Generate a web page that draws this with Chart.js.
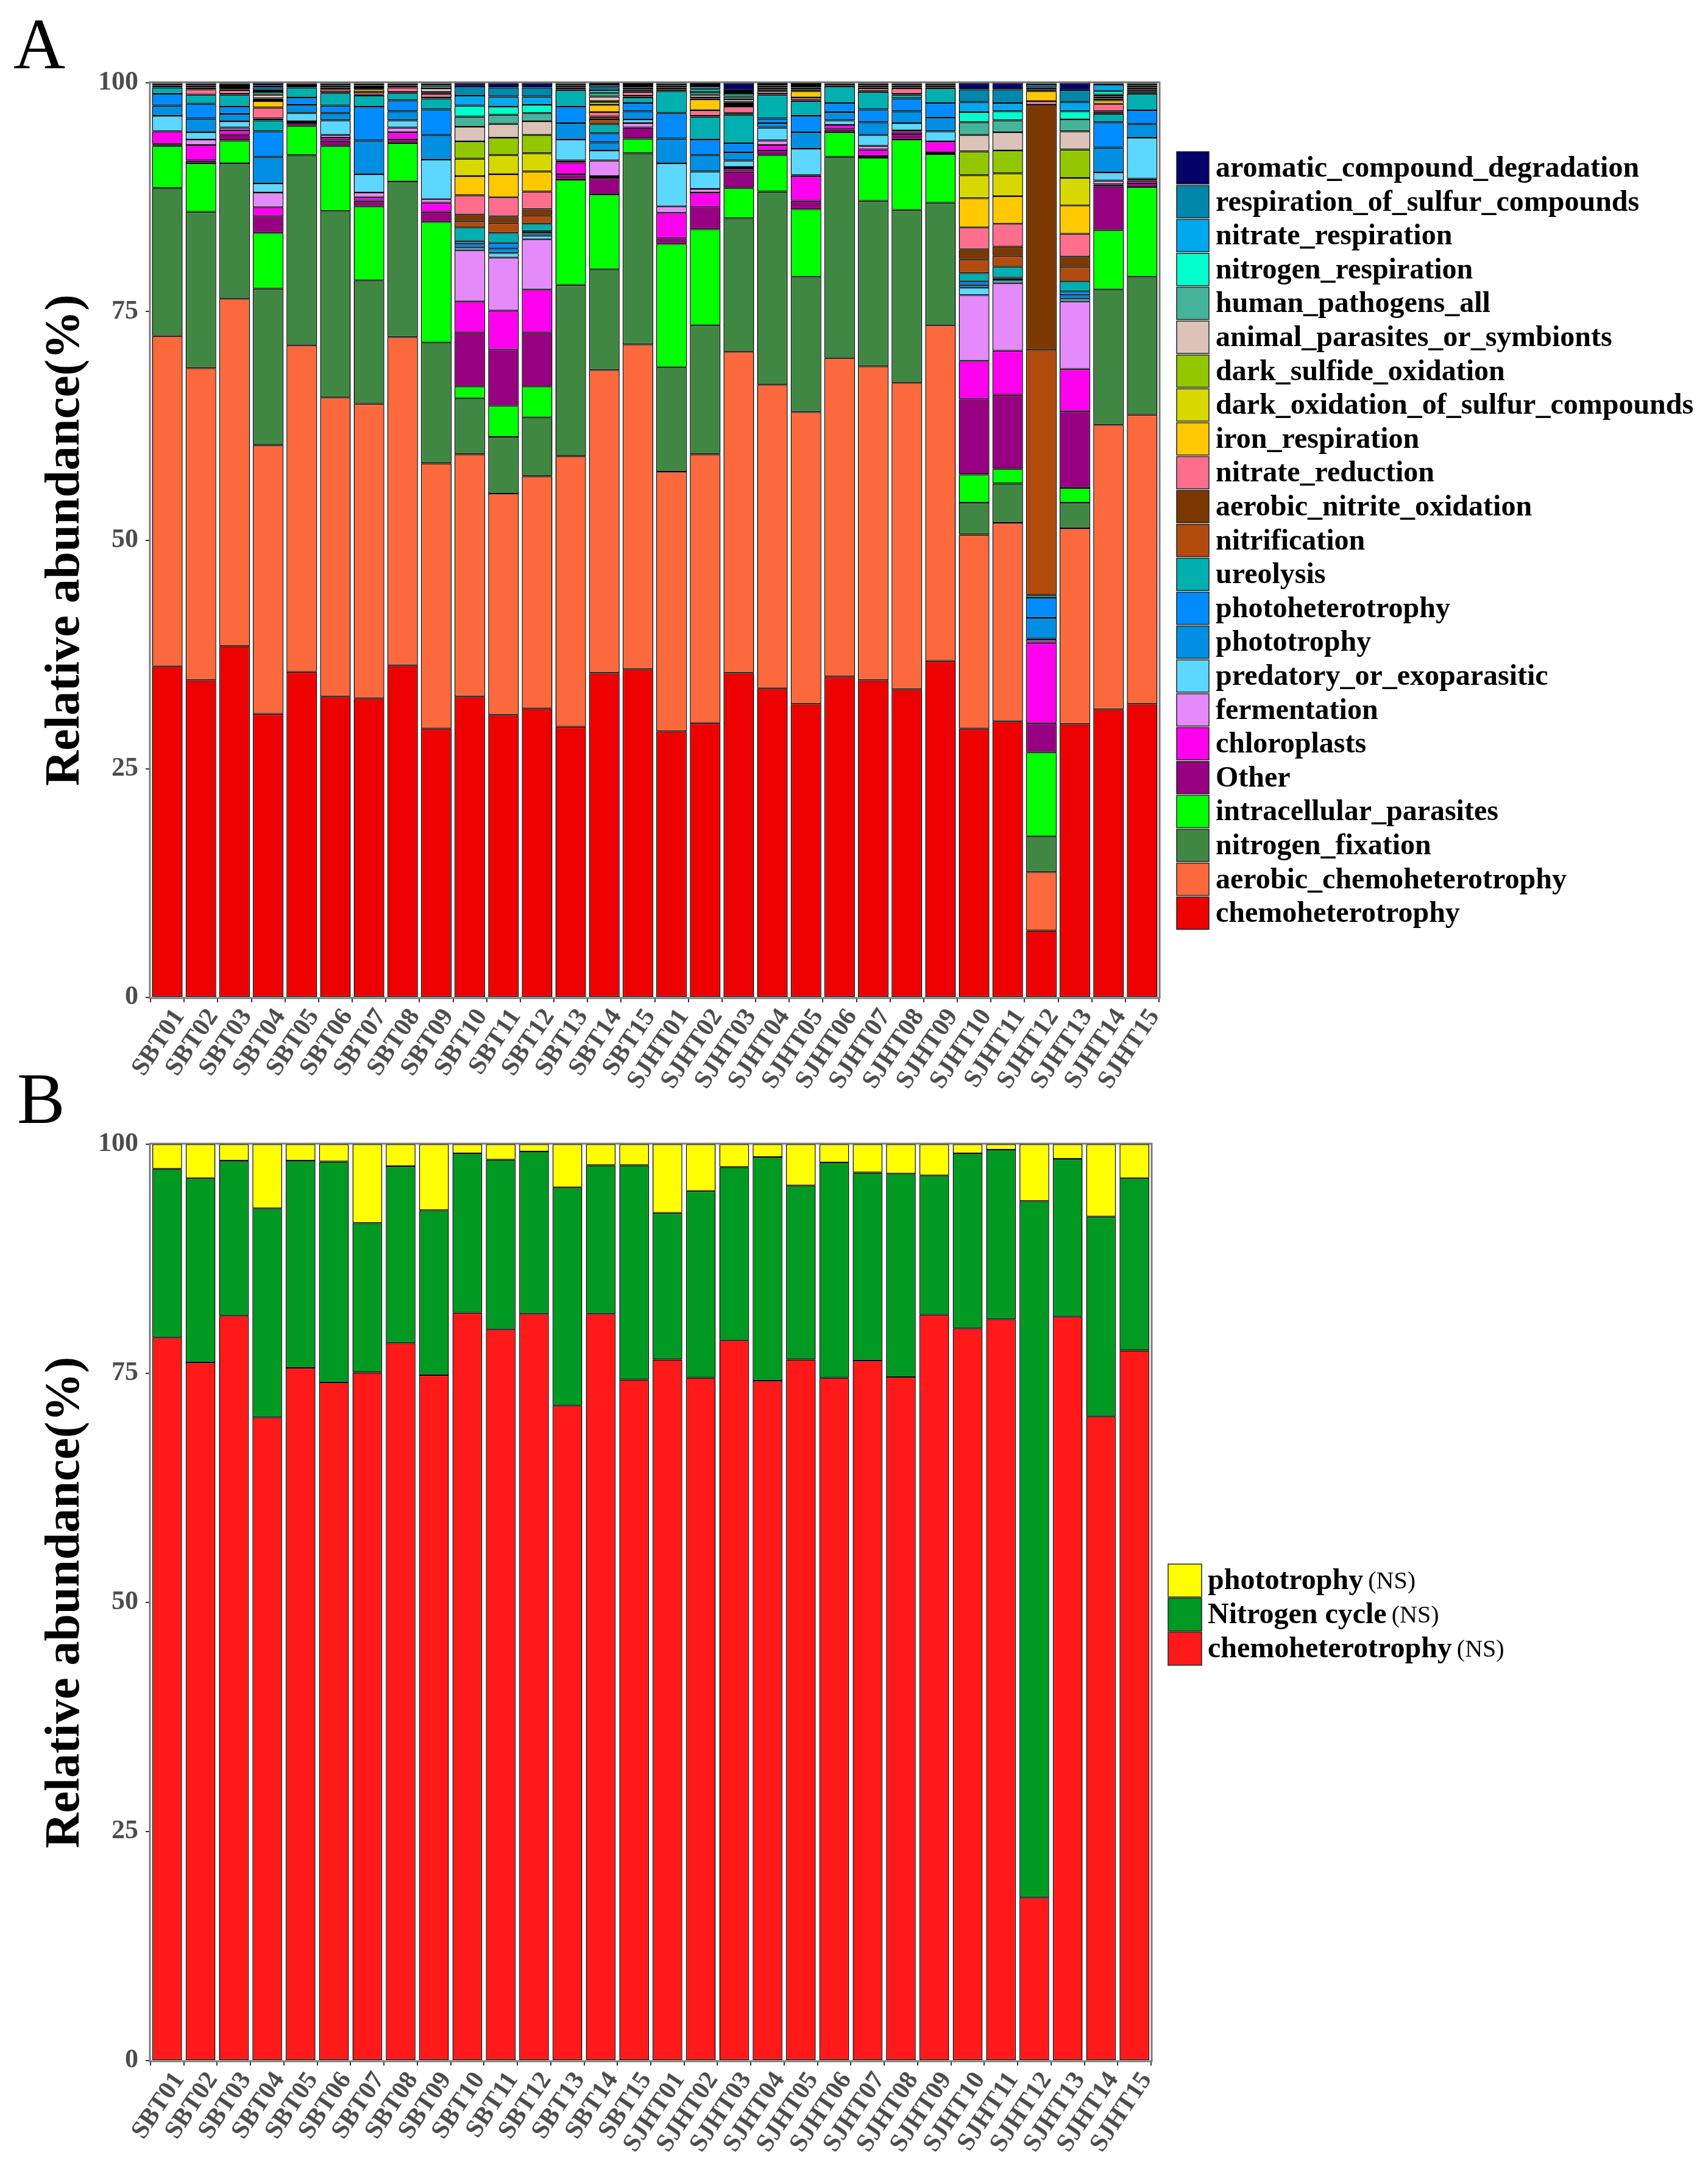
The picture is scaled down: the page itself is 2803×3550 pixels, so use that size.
<!DOCTYPE html>
<html>
<head>
<meta charset="utf-8">
<script src="https://cdn.jsdelivr.net/npm/chart.js@4.4.1/dist/chart.umd.min.js"></script>
<style>
  html, body { margin: 0; padding: 0; background: #fff; }
  #wrap { position: relative; width: 2803px; height: 3550px; background: #fff; }
  canvas { position: absolute; left: 0; }
  #chartA { top: 0; }
  #chartB { top: 1740px; }
</style>
</head>
<body>
<div id="wrap">
  <canvas id="chartA" width="2803" height="1800"></canvas>
  <canvas id="chartB" width="2803" height="1810"></canvas>
</div>
<script>
// sample names
var samples = ["SBT01","SBT02","SBT03","SBT04","SBT05","SBT06","SBT07","SBT08","SBT09","SBT10","SBT11","SBT12","SBT13","SBT14","SBT15",
  "SJHT01","SJHT02","SJHT03","SJHT04","SJHT05","SJHT06","SJHT07","SJHT08","SJHT09","SJHT10","SJHT11","SJHT12","SJHT13","SJHT14","SJHT15"];
var yTicks = [0, 25, 50, 75, 100];

// panel A, relative abundance (%) of each FAPROTAX function, bottom of the stack first
var chemoheterotrophy = [36.2,34.7,38.4,31.0,35.6,32.9,32.7,36.3,29.4,32.9,30.9,31.6,29.6,35.5,35.9, 29.1,30.0,35.5,33.8,32.1,35.1,34.7,33.7,36.8,29.4,30.2,7.3,29.9,31.5,32.1];
var aerobic_chemoheterotrophy = [36.1,34.1,38.0,29.4,35.7,32.7,32.2,35.9,29.0,26.5,24.2,25.4,29.6,33.1,35.5, 28.4,29.4,35.1,33.2,31.9,34.8,34.3,33.5,36.7,21.2,21.7,6.4,21.4,31.1,31.6];
var nitrogen_fixation = [16.2,17.1,14.8,17.1,20.8,20.4,13.5,17.0,13.2,6.1,6.2,6.4,18.7,11.0,20.9, 11.4,14.1,14.6,21.1,14.8,22.0,18.1,18.9,13.4,3.5,4.3,3.9,2.8,14.8,15.1];
var intracellular_parasites = [4.6,5.3,2.5,6.1,3.2,7.1,8.1,4.2,13.2,1.3,3.4,3.4,11.5,8.2,1.6, 13.5,10.5,3.3,4.0,7.4,2.7,4.7,7.7,5.3,3.1,1.6,9.2,1.6,6.5,9.8];
var other = [0.2,0.3,0.6,1.8,0.3,0.6,0.6,0.4,1.1,5.9,6.1,5.9,0.6,1.8,1.2, 0.6,2.4,1.8,0.5,0.9,0.3,0.2,0.6,0.2,8.2,8.1,3.2,8.4,4.8,0.4];
var chloroplasts = [1.4,1.7,0.5,1.0,0.2,0.3,0.4,0.8,1.0,3.4,4.3,4.7,1.3,0.2,0, 2.8,1.6,0.3,0.6,2.7,0.5,0.7,0.3,1.2,4.2,4.8,8.8,4.6,0.2,0.3];
var fermentation = [0,0.6,0.3,1.6,0,0.3,0.5,0.5,0.4,5.6,5.8,5.5,0.2,1.7,0.5, 0.7,0.4,0.2,0.5,0.1,0,0.4,0.1,0,7.2,7.4,0.3,7.4,0.4,0.2];
var predatory_or_exoparasitic = [1.7,0.8,0.7,1.0,0.9,1.6,2.0,0.8,4.3,0.3,0.5,0.4,2.3,1.1,0.4, 4.7,1.9,0.7,1.4,2.9,0.5,1.2,0.8,1.1,0.8,0.3,0.1,0.3,0.9,4.5];
var phototrophy = [1.1,1.5,0.8,2.9,0.9,0.8,3.7,1.0,2.7,0.4,0.5,0.3,1.8,0.9,0.9, 2.7,1.8,0.9,0.5,1.8,0.9,1.4,1.3,1.5,0.3,0.2,2.3,0.4,2.7,1.5];
var photoheterotrophy = [1.3,1.6,0.8,2.8,0.8,0.8,3.7,1.2,2.8,0.3,0.6,0.2,1.8,1.0,0.9, 2.8,1.7,1.0,0.5,1.8,1.0,1.4,1.4,1.6,0.4,0.1,2.2,0.4,2.8,1.5];
var ureolysis = [0.7,1.0,1.3,1.2,1.1,1.4,1.2,0.8,1.2,1.5,1.1,0.8,1.8,1.0,0.6, 2.4,2.5,3.1,2.6,1.6,1.8,1.9,0.4,1.6,0.9,1.2,0.3,1.1,0.9,1.8];
var nitrification = [0,0,0,0.1,0,0,0,0,0,0.7,1.1,0.9,0,0.5,0.1, 0,0.1,0.1,0,0,0,0,0,0,1.5,1.2,26.8,1.6,0.1,0.1];
var aerobic_nitrite_oxidation = [0,0,0.1,0.1,0.1,0.1,0.1,0.1,0.1,0.7,0.7,0.7,0.1,0.3,0.1, 0.1,0,0.1,0.1,0.1,0.1,0.1,0.1,0.1,1.1,1.0,26.8,1.1,0.2,0.1];
var nitrate_reduction = [0.2,0.6,0.4,1.2,0.2,0.3,0.3,0.5,0.4,2.1,2.1,1.9,0.2,0.5,0.4, 0.1,0.6,0.7,0.3,0.3,0.1,0.3,0.6,0.1,2.4,2.5,0.4,2.5,0.8,0.1];
var iron_respiration = [0,0,0,0.7,0,0.1,0.3,0.1,0.1,2.1,2.5,2.2,0.1,0.8,0.1, 0.1,1.2,0.2,0.1,0.7,0,0.1,0.1,0.1,3.2,3.0,1.1,3.1,0.4,0.1];
var dark_oxidation_of_sulfur_compounds = [0,0,0,0.2,0,0.1,0.1,0,0.1,1.9,2.1,2.0,0,0.3,0.1, 0,0.1,0.2,0.1,0.1,0,0,0,0,2.5,2.5,0,3.0,0.2,0.1];
var dark_sulfide_oxidation = [0,0,0,0.1,0,0,0,0,0,1.9,1.9,2.0,0,0.1,0, 0,0.1,0.1,0,0.1,0,0,0,0,2.6,2.5,0,3.1,0.2,0.1];
var animal_parasites_or_symbionts = [0.1,0.2,0.1,0.4,0,0.1,0.2,0.1,0.4,1.6,1.5,1.5,0.1,0.5,0.1, 0.1,0.3,0.3,0.1,0.1,0,0.1,0.1,0.1,1.8,2.0,0.1,2.0,0.1,0.1];
var human_pathogens_all = [0,0.2,0.1,0.3,0,0.1,0.1,0.1,0.3,1.1,1.0,0.9,0.1,0.4,0.1, 0.1,0.3,0.3,0.1,0.1,0.1,0.1,0.1,0,1.4,1.3,0.1,1.3,0.1,0.1];
var nitrogen_respiration = [0.1,0.1,0.2,0.2,0,0.1,0.1,0.1,0.1,1.2,0.9,0.9,0.1,0.3,0.1, 0.1,0.3,0.3,0.1,0.1,0,0.1,0.1,0,1.1,1.0,0.2,0.9,0.4,0.1];
var nitrate_respiration = [0,0.1,0.2,0.3,0,0.1,0.1,0,0.1,1.1,1.1,0.9,0.1,0.3,0.1, 0.1,0.3,0.2,0.1,0.2,0,0.1,0.1,0.1,1.1,0.9,0.3,1.0,0.7,0.1];
var respiration_of_sulfur_compounds = [0.1,0.1,0.1,0.2,0.1,0.1,0.1,0.1,0.1,1.0,1.0,1.0,0,0.3,0.2, 0.1,0.2,0.2,0.1,0,0.1,0.1,0.1,0,1.4,1.5,0.1,1.3,0.1,0.1];
var aromatic_compound_degradation = [0,0,0.1,0.3,0.1,0.1,0.1,0,0,0.4,0.5,0.5,0,0.2,0.2, 0.1,0.2,0.8,0.2,0.2,0,0,0,0.1,0.7,0.7,0.1,0.8,0.1,0.1];

// panel B
var chemoB = [78.9,76.2,81.3,70.2,75.6,74.0,75.1,78.3,74.8,81.6,79.8,81.5,71.5,81.5,74.3, 76.5,74.5,78.6,74.2,76.5,74.5,76.4,74.6,81.4,79.9,80.9,17.8,81.2,70.3,77.5];
var nitrogenB = [18.4,20.1,16.9,22.8,22.6,24.1,16.3,19.3,18.0,17.4,18.5,17.7,23.8,16.2,23.4, 16.0,20.4,18.9,24.4,19.0,23.5,20.5,22.2,15.2,19.1,18.5,76.0,17.2,21.8,18.8];
var phototrophyB = [2.7,3.7,1.8,7.0,1.8,1.9,8.6,2.4,7.2,1.0,1.7,0.8,4.7,2.3,2.3, 7.5,5.1,2.5,1.4,4.5,2.0,3.1,3.2,3.4,1.0,0.6,6.2,1.6,7.9,3.7];

var seriesA = [
  ["chemoheterotrophy", chemoheterotrophy, "#EC0000"],
  ["aerobic_chemoheterotrophy", aerobic_chemoheterotrophy, "#FB693D"],
  ["nitrogen_fixation", nitrogen_fixation, "#418744"],
  ["intracellular_parasites", intracellular_parasites, "#00FF00"],
  ["Other", other, "#970080"],
  ["chloroplasts", chloroplasts, "#FF00EE"],
  ["fermentation", fermentation, "#E48AFA"],
  ["predatory_or_exoparasitic", predatory_or_exoparasitic, "#5CD7FF"],
  ["phototrophy", phototrophy, "#008FE2"],
  ["photoheterotrophy", photoheterotrophy, "#008CFF"],
  ["ureolysis", ureolysis, "#00AFAF"],
  ["nitrification", nitrification, "#B14B0E"],
  ["aerobic_nitrite_oxidation", aerobic_nitrite_oxidation, "#7B3800"],
  ["nitrate_reduction", nitrate_reduction, "#FF6E8D"],
  ["iron_respiration", iron_respiration, "#FFC800"],
  ["dark_oxidation_of_sulfur_compounds", dark_oxidation_of_sulfur_compounds, "#D7D800"],
  ["dark_sulfide_oxidation", dark_sulfide_oxidation, "#93C700"],
  ["animal_parasites_or_symbionts", animal_parasites_or_symbionts, "#DCC3B7"],
  ["human_pathogens_all", human_pathogens_all, "#45B49A"],
  ["nitrogen_respiration", nitrogen_respiration, "#00FFCC"],
  ["nitrate_respiration", nitrate_respiration, "#00A8EE"],
  ["respiration_of_sulfur_compounds", respiration_of_sulfur_compounds, "#0087AB"],
  ["aromatic_compound_degradation", aromatic_compound_degradation, "#030368"]
];
var seriesB = [
  ["chemoheterotrophy", chemoB, "#FF1919"],
  ["Nitrogen cycle", nitrogenB, "#009922"],
  ["phototrophy", phototrophyB, "#FFFF00"]
];

Chart.defaults.font.family = "'Liberation Serif', 'DejaVu Serif', serif";

function makeSets(list, barPct) {
  return list.map(function (s) {
    return {
      label: s[0], data: s[1], backgroundColor: s[2],
      borderColor: "#000", borderWidth: 1.5, borderSkipped: false,
      barPercentage: barPct, categoryPercentage: 1
    };
  });
}

// legend on the right, drawn top to bottom in reverse stacking order
var sideLegend = {
  id: "sideLegend",
  afterDraw: function (chart, args, o) {
    var ctx = chart.ctx;
    var sets = chart.data.datasets.slice().reverse();
    ctx.save();
    ctx.textBaseline = "middle";
    for (var i = 0; i < sets.length; i++) {
      var y = o.top + i * o.pitch;
      ctx.fillStyle = sets[i].backgroundColor;
      ctx.fillRect(o.x, y, o.box, o.boxH);
      ctx.lineWidth = 1.5;
      ctx.strokeStyle = "#222";
      ctx.strokeRect(o.x, y, o.box, o.boxH);
      ctx.fillStyle = "#000";
      ctx.font = "bold 48px 'Liberation Serif'";
      var tx = o.x + o.box + o.gap;
      ctx.fillText(sets[i].label, tx, y + o.boxH / 2 + 2);
      if (o.suffix) {
        var w = ctx.measureText(sets[i].label).width;
        ctx.font = "40px 'Liberation Serif'";
        ctx.fillText(o.suffix, tx + w + 8, y + o.boxH / 2 + 2);
      }
    }
    ctx.restore();
  }
};

// panel frame and the big panel letter
var panelFrame = {
  id: "panelFrame",
  afterDatasetsDraw: function (chart) {
    var a = chart.chartArea, ctx = chart.ctx;
    ctx.save();
    ctx.strokeStyle = "#7a7a7a";
    ctx.lineWidth = 3;
    ctx.strokeRect(a.left - 1, a.top - 1, a.right - a.left + 2, a.bottom - a.top + 2);
    ctx.restore();
  },
  afterDraw: function (chart, args, o) {
    var ctx = chart.ctx;
    ctx.save();
    ctx.fillStyle = "#000";
    ctx.font = "118px 'Liberation Serif'";
    ctx.textBaseline = "alphabetic";
    ctx.fillText(o.letter, o.x, o.y);
    ctx.restore();
  }
};

function makeChart(id, list, barPct, pad, axisH, legendOpts, letterOpts) {
  return new Chart(document.getElementById(id), {
    type: "bar",
    data: { labels: samples, datasets: makeSets(list, barPct) },
    options: {
      responsive: false, animation: false, devicePixelRatio: 1,
      layout: { padding: pad },
      plugins: {
        legend: { display: false }, tooltip: { enabled: false },
        sideLegend: legendOpts, panelFrame: letterOpts
      },
      scales: {
        x: {
          stacked: true,
          afterFit: function (s) { s.height = axisH; },
          grid: { drawOnChartArea: false, drawTicks: true, tickLength: 8, color: "#333", lineWidth: 2 },
          border: { display: false },
          ticks: {
            autoSkip: false, maxRotation: 56, minRotation: 56, padding: 2, labelOffset: 20,
            color: "#4d4d4d",
            font: { family: "'Liberation Serif'", size: 42, weight: "bold" }
          }
        },
        y: {
          stacked: true, min: 0, max: 100,
          afterFit: function (s) { s.width = 247; },
          afterBuildTicks: function (s) { s.ticks = yTicks.map(function (v) { return { value: v }; }); },
          grid: { drawOnChartArea: false, drawTicks: true, tickLength: 8, color: "#333", lineWidth: 2 },
          border: { display: false },
          ticks: {
            padding: 12, color: "#4d4d4d",
            font: { family: "'Liberation Serif'", size: 44, weight: "bold" }
          },
          title: {
            display: true, text: "Relative abundance(%)", color: "#000",
            padding: { top: 60, bottom: 0 },
            font: { family: "'Liberation Serif'", size: 80, weight: "bold" }
          }
        }
      }
    },
    plugins: [sideLegend, panelFrame]
  });
}

makeChart("chartA", seriesA, 0.91,
  { left: 0, top: 136, right: 901, bottom: 0 }, 163,
  { x: 1931, top: 249, pitch: 55.6, box: 53, boxH: 53, gap: 11 },
  { letter: "A", x: 22, y: 112 });

makeChart("chartB", seriesB, 0.89,
  { left: 0, top: 138, right: 914, bottom: 0 }, 168,
  { x: 1917, top: 827, pitch: 56, box: 55, boxH: 54, gap: 10, suffix: "(NS)" },
  { letter: "B", x: 28, y: 103 });
</script>
</body>
</html>
